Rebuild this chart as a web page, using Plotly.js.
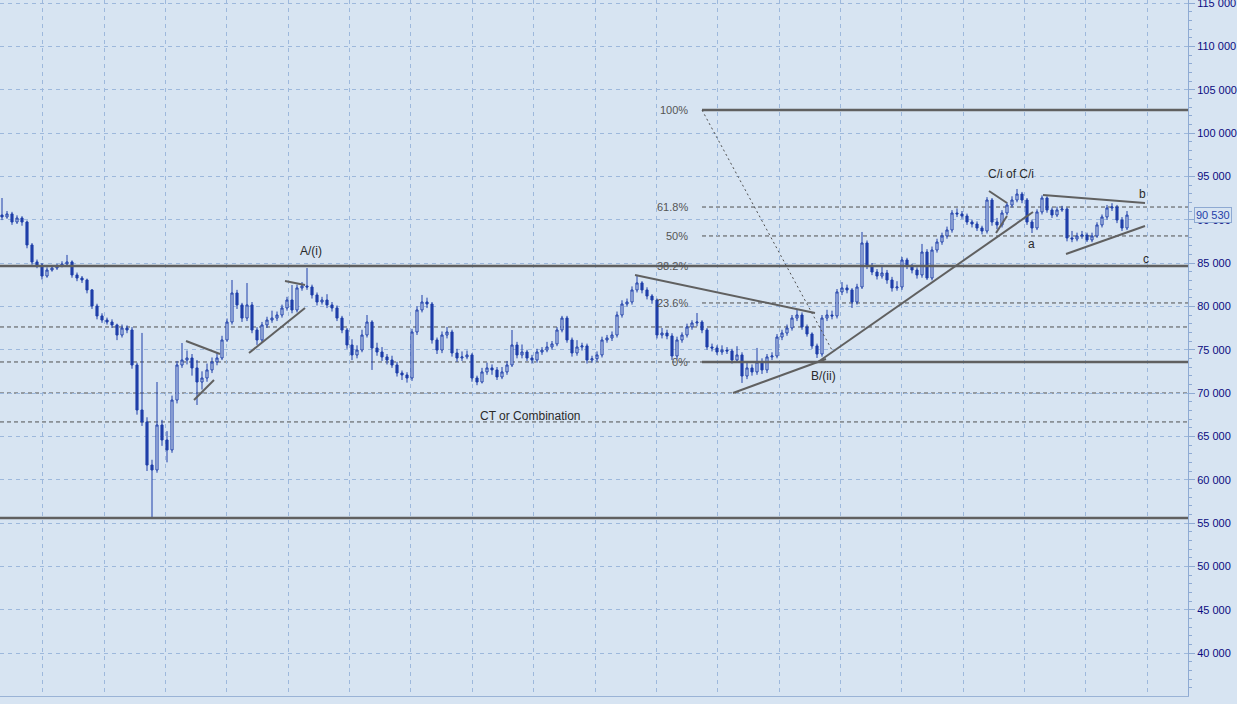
<!DOCTYPE html>
<html>
<head>
<meta charset="utf-8">
<script src="https://cdn.plot.ly/plotly-3.0.1.min.js"></script>
<style>
html,body{margin:0;padding:0;background:#d7e4f2;}
#chart{width:1237px;height:704px;}
</style>
</head>
<body>
<div id="chart"></div>
<script>
// ---- price data ----
const openP = [
90540,90310,90660,89730,90190,89730,87080,85120,84770,83500,
84190,84420,84660,84890,85120,83620,83270,83040,81890,80040,
78890,78420,78190,77850,76690,77500,77270,73230,68040,66660,
61690,61120,66310,64580,63430,69190,73230,73810,74040,72890,
71270,71730,72660,73580,74040,76120,78190,81540,80160,78650,
80160,77270,76120,77850,78420,78650,79000,79810,80730,79580,
82120,82350,82230,81310,80500,80730,80160,79810,78650,77270,
75540,74390,74960,76690,78190,75190,74730,74160,73810,73230,
72310,72080,71730,77040,79580,80500,80270,76120,74960,76690,
77040,74620,74040,74160,74390,71730,71270,72430,72890,72660,
71850,72430,73230,75540,74390,74730,74040,73810,74730,74960,
75310,75660,77270,78650,76120,74620,75310,75430,73810,73950,
74390,76120,76350,76690,79000,80270,80500,81890,82700,81890,
81190,80730,76690,76920,76580,74270,76120,76690,77620,78080,
78190,77270,75310,75190,74730,74960,74850,73810,74390,71960,
72890,72430,73580,72660,74160,74270,76460,76920,77500,78650,
79000,77620,76810,75430,74500,78650,79000,78890,81660,82120,
81890,80500,82230,87310,84660,83960,83500,83850,83040,82120,
82230,85350,84660,84190,83620,86270,83270,86500,87420,88120,
88810,90770,90660,90420,89730,89500,89040,88690,92270,89730,
89390,90770,91690,92270,92960,92270,89730,89040,90890,92500,
91120,90540,91120,91230,87890,87770,88120,88230,87660,88120,
89390,90310,91350,91460,89960,89040];
const highP = [
92500,91000,90900,90500,90400,89900,87300,85400,85000,84500,
84700,84900,85200,85930,85300,83900,83500,83200,82000,80300,
79200,78700,78500,78000,77900,77800,77600,73500,76930,67200,
62300,71270,66900,65600,69700,73700,75770,74900,74500,73800,
72500,73400,74100,74600,76600,78600,83040,81900,80400,82690,
80500,77600,78200,78800,79500,79400,80200,81100,82460,82500,
82800,84420,82500,81600,81100,81400,80500,80100,78900,77500,
76200,75500,77300,79000,78400,75800,75300,74500,74300,73600,
72600,72400,77400,80000,81310,81000,80500,76400,77100,77620,
77300,75100,74800,74900,74600,72000,72900,73500,73300,73000,
73000,73700,77270,75900,75600,75000,74400,75100,75300,75900,
76000,77600,78900,78900,76400,76100,75800,75700,74300,74800,
76500,76700,77100,79400,80700,80900,82300,83620,82900,82200,
81400,80900,77500,77300,76900,76500,77000,78000,78400,79230,
78400,77500,75700,75500,75500,75300,75100,75400,74700,73500,
73300,75200,74000,74500,74700,76800,77300,77900,79000,79600,
79300,77900,77000,75700,79000,79600,79500,82000,82800,82500,
82100,82600,88580,87600,85000,84300,84600,84200,83400,82900,
85700,85600,84900,84500,87200,86600,86900,87800,88500,89200,
91100,91300,91000,90700,90000,89800,89300,92600,92500,90200,
91100,92000,92700,93540,93200,92500,90000,91200,92800,92700,
91400,91500,91600,91400,88700,88500,88700,88500,88500,89700,
90600,91700,91900,91700,90300,91000];
const lowP = [
89950,90100,89400,89500,89300,86700,84800,84400,83100,83300,
84000,84200,84500,84700,83300,82900,82700,81500,79700,78500,
78100,77900,77500,76100,76400,76900,72800,67500,66200,61000,
55690,60800,63900,62000,63100,68800,72900,73300,72000,68620,
70400,71300,72300,73200,73800,75900,77900,79700,78200,78300,
76900,75550,75800,77500,78100,78300,78700,79500,79200,79300,
81800,81900,80900,80100,80200,79800,79400,78300,76900,75100,
73800,74000,74700,76400,72660,74300,73700,73300,72900,71900,
71500,71200,71400,76700,79300,79800,75700,74500,74600,76300,
74200,73600,73700,73900,71300,70900,71100,72100,72100,71500,
71600,72100,73000,74000,74000,73700,73400,73500,74400,74700,
75000,75400,77000,75800,74200,74300,74900,73400,73500,73600,
74100,75800,76000,76400,78700,80000,80200,81600,81500,80800,
80300,76300,76300,76200,73800,73900,75800,76400,77300,77700,
76900,75000,74800,74400,74400,74500,73400,73500,71160,71600,
72000,72100,72200,72300,73800,74000,76100,76600,77200,78300,
77300,76500,75100,74040,74200,78300,78500,78600,81300,81500,
79810,80200,82000,84300,83600,83100,83200,82600,81700,81800,
81900,84300,83800,83200,83300,83040,83000,86200,87100,87800,
88500,90300,90100,89400,89100,88700,88300,88400,89300,88900,
89100,90500,91400,92000,91900,89400,88460,88800,90600,90800,
90200,90300,90900,87500,87400,87500,87800,87420,87400,87900,
89100,90000,91000,89600,88700,88800];
const closeP = [
90310,90660,89730,90190,89730,87080,85120,84770,83500,84190,
84420,84660,84890,85120,83620,83270,83040,81890,80040,78890,
78420,78190,77850,76690,77500,77270,73230,68040,66660,61690,
61120,66310,64580,63430,69190,73230,73810,74040,72890,71270,
71730,72660,73580,74040,76120,78190,81540,80160,78650,80160,
77270,76120,77850,78420,78650,79000,79810,80730,79580,82120,
82350,82230,81310,80500,80730,80160,79810,78650,77270,75540,
74390,74960,76690,78190,75190,74730,74160,73810,73230,72310,
72080,71730,77040,79580,80500,80270,76120,74960,76690,77040,
74620,74040,74160,74390,71730,71270,72430,72890,72660,71850,
72430,73230,75540,74390,74730,74040,73810,74730,74960,75310,
75660,77270,78650,76120,74620,75310,75430,73810,73950,74390,
76120,76350,76690,79000,80270,80500,81890,82700,81890,81190,
80730,76690,76920,76580,74270,76120,76690,77620,78080,78190,
77270,75310,75190,74730,74960,74850,73810,74390,71960,72890,
72430,73580,72660,74160,74270,76460,76920,77500,78650,79000,
77620,76810,75430,74500,78650,79000,78890,81660,82120,81890,
80500,82230,87310,84660,83960,83500,83850,83040,82120,82230,
85350,84660,84190,83620,86270,83270,86500,87420,88120,88810,
90770,90660,90420,89730,89500,89040,88690,92270,89730,89390,
90770,91690,92270,92960,92270,89730,89040,90890,92500,91120,
90540,91120,91230,87890,87770,88120,88230,87660,88120,89390,
90310,91350,91460,89960,89040,90530];

// horizontal support / resistance levels
const dashedLevels = [77620, 73580, 70000, 66660];
const solidLevels = [84660, 55580];
// Fibonacci retracement
const fibLevels = [102650, 91460, 88120, 84660, 80390, 73580];
const fibLabels = ['100%', '61.8%', '50%', '38.2%', '23.6%', '0%'];
const fibStart = 140;           // bar index where the fib lines begin
const fibDiag = [140, 102650, 166.2, 74730]; // dotted swing line
// trend lines [bar0, price0, bar1, price1]
const trendLines = [
  [36.8, 76000, 43.6, 74500],
  [38.4, 69190, 42.4, 71500],
  [49.4, 74620, 60.6, 79810],
  [56.6, 82920, 60.6, 82460],
  [126.6, 83620, 162.6, 79230],
  [146.2, 70000, 164.8, 73920],
  [163.2, 73580, 206.2, 90890],
  [197.4, 93310, 201.0, 91920],
  [198.8, 88460, 201.0, 90420],
  [208.2, 92850, 228.6, 91920],
  [212.8, 86040, 228.6, 89270]
];
// wave labels
const waveLabels = ['A/(i)', 'CT or Combination', 'B/(ii)', 'C/i of C/i', 'a', 'b', 'c'];
const waveX = [61.8, 105.6, 164.2, 201.8, 205.8, 228.0, 228.8];
const waveY = [86390, 67350, 71960, 95270, 87190, 92960, 85460];
const lastPrice = 90530;

const BG = '#d7e4f2';
const GRID = '#9db8dc';
const CANDLE = '#1f3fa9';
const LINE = '#606060';

const shapes = [];
dashedLevels.forEach(v => shapes.push({type:'line', xref:'paper', yref:'y', x0:0, x1:1, y0:v, y1:v,
  line:{color:'#505050', width:1, dash:'4px,3px'}, layer:'below'}));
solidLevels.forEach(v => shapes.push({type:'line', xref:'paper', yref:'y', x0:0, x1:1, y0:v, y1:v,
  line:{color:LINE, width:2.5}, layer:'above'}));
fibLevels.forEach((v, k) => {
  const solid = (fibLabels[k] === '100%' || fibLabels[k] === '0%');
  shapes.push({type:'line', xref:'x', yref:'y', x0:fibStart, x1:237.2, y0:v, y1:v,
    line:{color: solid ? LINE : '#505050', width: solid ? 2.5 : 1, dash: solid ? 'solid' : '4px,3px'},
    layer: solid ? 'above' : 'below'});
});
shapes.push({type:'line', xref:'x', yref:'y', x0:fibDiag[0], y0:fibDiag[1], x1:fibDiag[2], y1:fibDiag[3],
  line:{color:'#505050', width:1, dash:'2px,3px'}});
trendLines.forEach(t => shapes.push({type:'line', xref:'x', yref:'y', x0:t[0], y0:t[1], x1:t[2], y1:t[3],
  line:{color:LINE, width:2}}));

const annotations = [];
fibLevels.forEach((v, k) => annotations.push({xref:'x', yref:'y', x:137.6, y:v, text:fibLabels[k],
  showarrow:false, xanchor:'right', yanchor:'middle',
  font:{family:'Liberation Sans, Arial, sans-serif', size:11, color:'#555555'}}));
waveLabels.forEach((t, k) => annotations.push({xref:'x', yref:'y', x:waveX[k], y:waveY[k], text:t,
  showarrow:false, xanchor:'center', yanchor:'middle',
  font:{family:'Liberation Sans, Arial, sans-serif', size:12, color:'#2a2a2a'}}));
annotations.push({xref:'paper', yref:'y', x:1, y:lastPrice, xanchor:'left', yanchor:'middle', xshift:6,
  text:'90 530', showarrow:false, bgcolor:BG, bordercolor:'#8ea9d2', borderwidth:1, borderpad:1,
  font:{family:'Liberation Sans, Arial, sans-serif', size:11, color:'#1f3fa8'}});

const trace = {
  type:'candlestick',
  open:openP, high:highP, low:lowP, close:closeP,
  increasing:{line:{color:CANDLE, width:1}, fillcolor:BG},
  decreasing:{line:{color:CANDLE, width:1}, fillcolor:CANDLE},
  whiskerwidth:0,
  hoverinfo:'skip'
};

const layout = {
  width:1237, height:704,
  margin:{l:0, r:49, t:0, b:8, pad:0},
  paper_bgcolor:BG, plot_bgcolor:BG,
  separators:'. ',
  showlegend:false,
  boxgap:0.4,
  xaxis:{range:[-0.4, 237.2], showticklabels:false, ticks:'', showgrid:true,
    tick0:8.16, dtick:12.272, gridcolor:GRID, griddash:'4px,4px', gridwidth:1,
    zeroline:false, rangeslider:{visible:false}, showline:true, linecolor:'#9ab3d6', fixedrange:true},
  yaxis:{side:'right', range:[35040, 115346], tick0:0, dtick:5000, tickformat:',d',
    ticklabeloverflow:'allow',
    showgrid:true, gridcolor:GRID, griddash:'4px,4px', gridwidth:1,
    ticks:'outside', ticklen:6, tickcolor:'#8eaad3', showline:true, linecolor:'#8eaad3', linewidth:1,
    tickfont:{family:'Liberation Sans, Arial, sans-serif', size:11, color:'#0b0b80'},
    minor:{dtick:1000, ticks:'outside', ticklen:3, tickcolor:'#8eaad3', showgrid:false},
    zeroline:false, fixedrange:true},
  shapes:shapes,
  annotations:annotations
};

Plotly.newPlot('chart', [trace], layout, {displayModeBar:false, staticPlot:true});
</script>
</body>
</html>
